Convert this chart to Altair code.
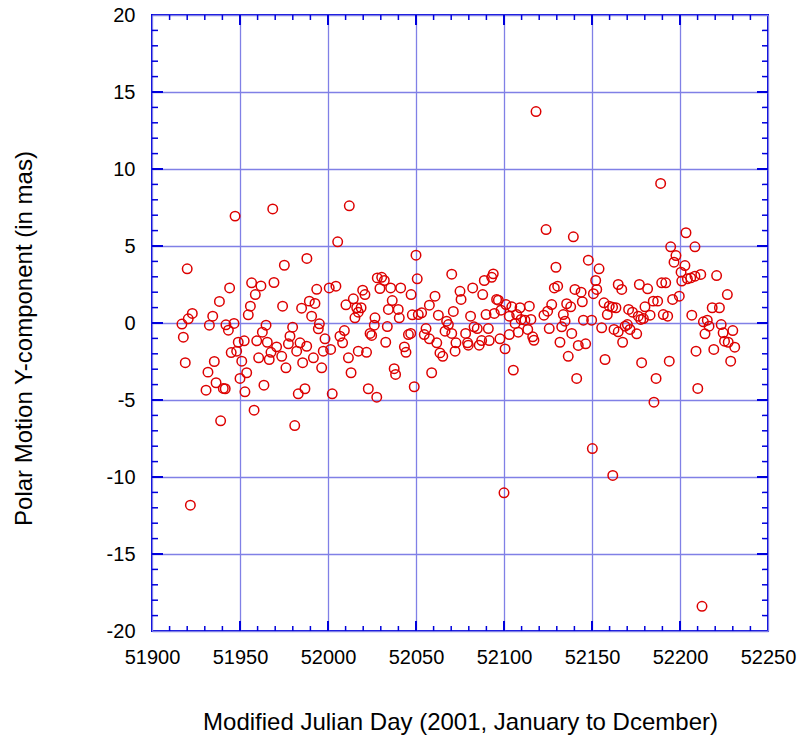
import altair as alt
import pandas as pd

# ---- data ----
mjd = [
    51947.2, 51968.6, 51988.0, 51920.0, 51975.2, 51944.1, 51956.6, 51961.9, 51969.3, 51958.7,
    51938.3, 51955.9, 51974.2, 51985.0, 51989.4, 51954.7, 51922.9, 51920.6, 51934.5, 51917.0,
    51932.6, 51942.0, 51943.4, 51946.6, 51964.8, 51979.9, 51917.8, 51962.7, 51978.4, 51949.0,
    51952.4, 51959.5, 51965.5, 51970.8, 51977.5, 51984.1, 51987.9, 51945.0, 51948.1, 51967.6,
    51973.7, 51982.2, 51960.6, 51966.6, 51951.0, 51918.9, 51935.4, 51985.6, 51976.1, 51931.8,
    51953.8, 51950.0, 51936.4, 51940.5, 51941.6, 51930.7, 51952.8, 51963.6, 51983.1, 51986.9,
    51958.0, 51939.0, 51981.1, 51921.8,
    52012.1, 52005.5, 52050.0, 52070.3, 52028.0, 52030.5, 52032.0, 52029.5, 52035.6, 52041.3,
    52050.7, 52047.2, 52060.8, 52075.0, 51993.6, 52000.7, 52004.5, 52019.7, 52021.0, 52014.4,
    52010.2, 52016.3, 52018.8, 52017.2, 52015.3, 52036.5, 52034.3, 52039.9, 52040.5, 52026.7,
    52026.3, 52033.7, 52047.9, 52051.3, 52053.2, 52057.6, 52062.7, 52071.2, 52067.4, 52068.4,
    51992.6, 51990.7, 51995.1, 51994.5, 51998.3, 51991.7, 51997.3, 52001.5, 51996.4, 52006.8,
    52009.3, 52008.3, 52011.6, 52017.2, 52021.9, 52023.9, 52024.8, 52032.8, 52043.4, 52044.3,
    52045.7, 52047.0, 52055.7, 52054.7, 52057.6, 52061.8, 52063.6, 52065.2, 52072.7, 52072.2,
    52066.5, 52070.3, 52013.1, 52037.6, 52038.4, 52058.9, 52002.4, 52022.9, 52027.7, 52049.0,
    52123.9, 52139.4, 52147.9, 52154.0, 52129.5, 52152.1, 52152.7, 52150.8, 52140.3, 52143.8,
    52144.5, 52128.6, 52130.5, 52093.9, 52093.0, 52088.8, 52082.2, 52075.6, 52087.9, 52095.8,
    52096.8, 52081.0, 52089.8, 52094.5, 52098.3, 52101.1, 52104.4, 52109.1, 52114.4, 52103.0,
    52107.2, 52109.7, 52115.3, 52111.9, 52122.7, 52124.8, 52127.1, 52133.7, 52135.6, 52137.9,
    52134.7, 52145.1, 52149.8, 52156.8, 52158.7, 52083.0, 52084.8, 52091.1, 52106.3, 52113.5,
    52108.1, 52103.0, 52125.7, 52132.8, 52155.5, 52078.2, 52079.3, 52079.7, 52085.9, 52087.3,
    52091.6, 52097.7, 52100.6, 52116.3, 52117.0, 52138.5, 52131.8, 52142.2, 52146.4, 52136.5,
    52105.3, 52141.3, 52157.4, 52100.0, 52150.2, 52118.2,
    52189.0, 52203.4, 52194.7, 52208.5, 52197.7, 52196.6, 52202.8, 52200.6, 52201.0, 52204.2,
    52206.1, 52208.5, 52211.8, 52220.8, 52226.9, 52189.6, 52191.9, 52199.6, 52195.8, 52184.8,
    52187.3, 52190.5, 52193.0, 52206.7, 52176.9, 52181.6, 52164.9, 52166.9, 52159.8, 52161.7,
    52163.6, 52170.8, 52173.0, 52180.1, 52179.2, 52183.0, 52176.3, 52177.7, 52162.5, 52164.9,
    52168.8, 52170.1, 52171.6, 52175.4, 52167.4, 52178.2, 52193.9, 52186.4, 52210.1, 52185.2,
    52213.3, 52215.5, 52216.5, 52214.2, 52218.3, 52222.4, 52223.4, 52224.5, 52225.3, 52227.4,
    52230.0, 52231.1, 52219.2, 52209.1, 52228.8, 52161.8, 52212.5,
]
ycomp = [
    6.94, 7.41, 4.19, 3.52, 3.75, 2.28, 2.61, 2.41, 2.63, 1.85,
    1.40, 1.09, 1.09, 0.96, 1.42, 0.53, 0.62, 0.27, 0.44, -0.07,
    -0.14, -0.12, -0.47, -0.03, -0.14, -0.27, -0.92, -0.60, -0.86, -1.25,
    -1.16, -1.16, -1.25, -1.55, -1.35, -1.29, -1.51, -1.92, -1.83, -1.90,
    -2.16, -1.83, -2.26, -2.37, -2.48, -2.58, -2.50, -2.58, -2.91, -3.19,
    -3.23, -3.60, -3.88, -4.25, -4.27, -4.36, -4.47, -4.04, -4.60, -4.27,
    -5.66, -6.35, -6.66, -11.83,
    7.61, 5.27, 4.40, 3.17, 2.93, 2.97, 2.76, 2.24, 2.28, 2.28,
    2.87, 1.85, 1.74, 2.06, 2.19, 2.28, 2.39, 2.13, 1.85, 1.57,
    1.18, 0.99, 0.99, 0.70, 0.34, 1.46, 0.88, 0.88, 0.34, 0.34,
    -0.14, -0.23, 0.53, 0.55, 0.66, 1.16, 0.51, 0.75, 0.12, -0.10,
    1.27, 0.44, -0.05, -0.38, -1.03, -2.26, -1.83, -1.72, -2.91, -0.86,
    -0.49, -1.29, -2.26, -1.83, -1.90, -0.68, -0.81, -1.25, -1.55, -1.90,
    -0.75, -0.68, -0.36, -0.75, -1.03, -1.29, -1.94, -2.16, -1.29, -1.83,
    -0.53, -0.68, -3.23, -2.97, -3.34, -3.23, -4.60, -4.27, -4.82, -4.14,
    6.07, 5.60, 4.08, 3.52, 3.62, 2.76, 2.18, 1.90, 2.18, 2.00,
    1.38, 2.28, 2.39, 3.19, 2.97, 2.76, 2.28, 1.53, 1.85, 1.53,
    1.48, 0.44, 0.55, 0.62, 0.83, 1.20, 1.05, 0.99, 1.09, 0.44,
    0.55, 0.23, 0.23, 0.18, 0.51, 0.77, 1.20, 0.55, 1.25, 1.05,
    0.12, 0.18, 0.18, 1.31, 0.55, -0.25, -0.36, -0.36, -0.03, -0.42,
    -0.60, -0.75, -0.36, -0.25, -0.31, -0.68, -1.29, -1.44, -1.44, -1.14,
    -1.14, -1.03, -1.68, -0.90, -1.12, -0.68, -1.25, -1.46, -1.35, -2.16,
    -3.06, -3.60, -2.37, -11.03, -8.15, 13.73,
    9.06, 5.86, 4.95, 4.95, 4.38, 3.95, 3.73, 3.30, 2.72, 2.87,
    2.93, 3.04, 3.15, 3.08, 1.85, 2.61, 2.61, 1.74, 1.53, 1.42,
    1.42, 0.55, 0.44, 0.51, 2.50, 2.22, 2.50, 2.18, 1.09, 1.03,
    0.99, 0.88, 0.70, 1.05, 0.29, 0.51, 0.44, 0.23, -0.42, -0.57,
    -0.21, -0.10, -0.42, -0.70, -1.25, -2.58, -2.48, -3.60, -4.25, -5.14,
    0.08, 0.18, -0.21, -0.70, 0.99, 0.99, -0.10, -0.64, -1.18, -1.25,
    -0.49, -1.57, -1.72, -1.83, -2.48, -9.90, -18.40,
]

x_major = [51900, 51950, 52000, 52050, 52100, 52150, 52200, 52250]
y_major = [-20, -15, -10, -5, 0, 5, 10, 15, 20]
x_minor = [v for v in range(51910, 52250, 10) if v % 50 != 0]
y_minor = [v for v in range(-19, 20) if v % 5 != 0]
x_inner_major = x_major[1:-1]
y_inner_major = y_major[1:-1]

W = 616
H = 616
FRAME = "#0000DD"
GRID = "#8080E6"
RED = "#DD0000"
FONT = "Liberation Sans"

xs = alt.Scale(domain=[51900, 52250], nice=False, zero=False)
ys = alt.Scale(domain=[-20, 20], nice=False, zero=False)

x_axis = alt.Axis(
    values=x_major, format="d", grid=True, gridColor=GRID, gridWidth=1.3,
    ticks=False, domain=False, labelFont=FONT, labelFontSize=20,
    labelColor="black", labelPadding=16, labelFlush=False, labelOverlap=False,
    title="Modified Julian Day (2001, January to Dcember)",
    titleFont=FONT, titleFontSize=24, titleFontWeight="normal",
    titleColor="black", titleBaseline="alphabetic", titleY=98,
)
y_axis = alt.Axis(
    values=y_major, format="d", grid=True, gridColor=GRID, gridWidth=1.3,
    labelExpr="replace(datum.label, '\u2212', '-')",
    ticks=False, domain=False, labelFont=FONT, labelFontSize=20,
    labelColor="black", labelPadding=17, labelFlush=False, labelOverlap=False,
    title="Polar Motion Y-component (in mas)",
    titleFont=FONT, titleFontSize=24, titleFontWeight="normal",
    titleColor="black", titleBaseline="middle", titleX=-128, titleY=323,
)

df = pd.DataFrame({"mjd": mjd, "y": ycomp})

points = alt.Chart(df).mark_point(
    shape="circle", filled=False, color=RED, size=90, strokeWidth=1.5, opacity=1
).encode(
    x=alt.X("mjd:Q", scale=xs, axis=x_axis),
    y=alt.Y("y:Q", scale=ys, axis=y_axis),
)


def xticks(vals, y0, y1, sw):
    return alt.Chart(pd.DataFrame({"mjd": vals})).mark_rule(
        color=FRAME, strokeWidth=sw
    ).encode(x=alt.X("mjd:Q", scale=xs, axis=x_axis), y=alt.value(y0), y2=alt.value(y1))


def yticks(vals, x0, x1, sw):
    return alt.Chart(pd.DataFrame({"y": vals})).mark_rule(
        color=FRAME, strokeWidth=sw
    ).encode(y=alt.Y("y:Q", scale=ys, axis=y_axis), x=alt.value(x0), x2=alt.value(x1))


layers = [
    points,
    xticks(x_minor, H, H - 5, 1.5),
    xticks(x_inner_major, H, H - 10, 2),
    xticks(x_minor, 0, 5, 1.5),
    xticks(x_inner_major, 0, 10, 2),
    yticks(y_minor, 0, 6, 1.5),
    yticks(y_inner_major, 0, 11, 2),
    yticks(y_minor, W, W - 6, 1.5),
    yticks(y_inner_major, W, W - 11, 2),
]

chart = alt.layer(*layers).properties(
    width=W, height=H,
    autosize=alt.AutoSizeParams(type="none"),
    padding={"left": 152, "top": 15, "right": 32, "bottom": 109},
    background="white",
).configure_view(stroke=FRAME, strokeWidth=2)

chart.save("out.html", embed_options={"renderer": "svg", "actions": False})
